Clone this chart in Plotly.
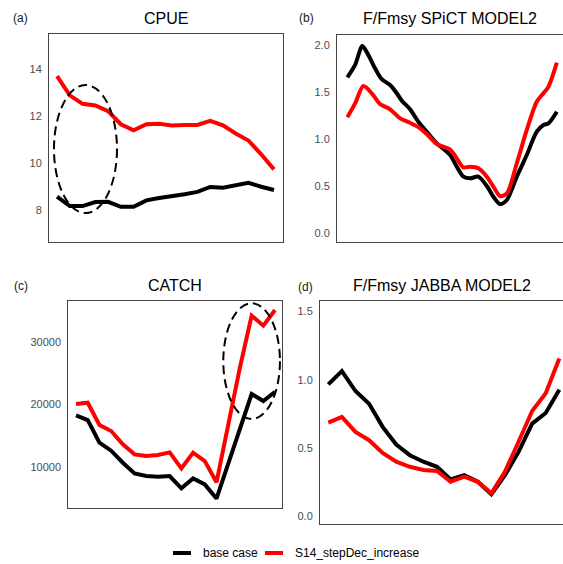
import plotly.graph_objects as go

W, H = 563, 564
FONT = "Liberation Sans, Arial, sans-serif"

years = list(range(2004, 2022))

# (a) CPUE
cpue_base = [8.57, 8.17, 8.17, 8.34, 8.35, 8.14, 8.14, 8.41, 8.51, 8.57,
             8.67, 8.77, 8.98, 8.95, 9.05, 9.16, 8.99, 8.85]
cpue_s14 = [13.70, 12.88, 12.52, 12.45, 12.21, 11.65, 11.39, 11.65, 11.67, 11.60,
            11.62, 11.62, 11.79, 11.60, 11.26, 10.96, 10.37, 9.73]

# (b) F/Fmsy SPiCT MODEL2 (smoothed trajectories, fractional time)
spict_t_base = [0.0, 0.63, 1.22, 1.70, 2.25, 2.79, 3.47, 4.01, 4.42, 5.09, 5.76, 6.44,
                7.26, 8.34, 8.88, 9.42, 9.96, 10.63, 11.32, 11.85, 12.39, 12.94,
                13.75, 14.56, 15.37, 15.91, 16.32, 17.0]
spict_base = [1.658, 1.79, 1.99, 1.895, 1.753, 1.637, 1.576, 1.488, 1.409, 1.318, 1.186, 1.08,
              0.956, 0.832, 0.708, 0.602, 0.584, 0.602, 0.503, 0.389, 0.311, 0.354,
              0.602, 0.832, 1.08, 1.151, 1.169, 1.292]
spict_t_s14 = [0.0, 0.63, 1.30, 1.98, 2.65, 3.47, 4.28, 5.09, 5.90, 6.44, 7.26, 8.34,
               8.88, 9.42, 9.96, 10.63, 11.32, 11.85, 12.39, 12.94, 13.75, 14.56,
               15.37, 15.91, 16.32, 17.0]
spict_s14 = [1.233, 1.38, 1.565, 1.488, 1.374, 1.318, 1.222, 1.175, 1.116, 1.055, 0.949, 0.890,
             0.797, 0.700, 0.708, 0.691, 0.602, 0.495, 0.396, 0.425, 0.744, 1.098,
             1.398, 1.488, 1.558, 1.813]

# (c) CATCH
catch_base = [18213, 17467, 13840, 12560, 10640, 8933, 8507, 8400, 8507, 6533,
              8133, 7173, 4900, 10430, 16290, 21630, 20510, 22000]
catch_s14 = [20027, 20240, 16667, 15707, 13573, 11973, 11707, 11867, 12293, 9733,
             12240, 10907, 7500, 16880, 25840, 34160, 32560, 35070]

# (d) F/Fmsy JABBA MODEL2
jabba_base = [0.966, 1.063, 0.917, 0.824, 0.654, 0.524, 0.446, 0.398, 0.361, 0.268,
              0.300, 0.251, 0.159, 0.300, 0.470, 0.678, 0.756, 0.927]
jabba_s14 = [0.685, 0.727, 0.617, 0.556, 0.463, 0.398, 0.361, 0.337, 0.330, 0.251,
             0.288, 0.251, 0.166, 0.325, 0.545, 0.770, 0.900, 1.156]

series_names = ["base case", "S14_stepDec_increase"]
series_colors = ["#000000", "#ff0000"]

panel_titles = ["CPUE", "F/Fmsy SPiCT MODEL2", "CATCH", "F/Fmsy JABBA MODEL2"]
panel_tags = ["(a)", "(b)", "(c)", "(d)"]


def px_x(x):
    return x / W


def px_y(y):
    return 1 - y / H


fig = go.Figure()

# panel boxes in pixels: left, right, top, bottom
boxes = [(49, 283, 34, 242), (337, 563, 35, 242), (68.3, 281.7, 300.7, 508.3), (320, 563, 300.7, 524)]
xranges = [[2003.37, 2021.71], [2003.16, 2021.5], [2003.34, 2021.57], [2003.39, 2021.27]]
yranges = [[6.64, 15.49], [-0.092, 2.107], [3344, 36560], [-0.059, 1.58]]
ytickvals = [[8, 10, 12, 14], [0, 0.5, 1, 1.5, 2], [10000, 20000, 30000], [0, 0.5, 1, 1.5]]
yticktext = [["8", "10", "12", "14"], ["0.0", "0.5", "1.0", "1.5", "2.0"],
             ["10000", "20000", "30000"], ["0.0", "0.5", "1.0", "1.5"]]

data_sets = [
    ([years, years], [cpue_base, cpue_s14], "linear"),
    ([[2004 + t for t in spict_t_base], [2004 + t for t in spict_t_s14]], [spict_base, spict_s14], "spline"),
    ([years, years], [catch_base, catch_s14], "linear"),
    ([years, years], [jabba_base, jabba_s14], "linear"),
]

layout_axes = {}
for i, (xs, ys, shape) in enumerate(data_sets):
    n = "" if i == 0 else str(i + 1)
    for k in range(2):
        fig.add_trace(go.Scatter(
            x=xs[k], y=ys[k], mode="lines", name=series_names[k],
            line=dict(color=series_colors[k], width=4, shape=shape, smoothing=0.8),
            xaxis="x" + n, yaxis="y" + n, showlegend=False, hoverinfo="skip"))
    l, r, t, b = boxes[i]
    layout_axes["xaxis" + n] = dict(
        domain=[px_x(l), px_x(r)], range=xranges[i], anchor="y" + n,
        showgrid=False, zeroline=False, showticklabels=False, ticks="",
        showline=True, mirror=True, linecolor="#444444", linewidth=1)
    layout_axes["yaxis" + n] = dict(
        domain=[px_y(b), px_y(t)], range=yranges[i], anchor="x" + n,
        showgrid=False, zeroline=False, tickvals=ytickvals[i], ticktext=yticktext[i],
        ticks="outside", ticklen=4, tickcolor="rgba(0,0,0,0)",
        tickfont=dict(family=FONT, size=11, color="#4d4d4d"),
        showline=True, mirror=True, linecolor="#444444", linewidth=1)

annotations = []
title_pos = [(166, 19), (450, 19), (175, 285), (441.5, 285)]
tag_pos = [(11, 18), (297, 18), (11.7, 286), (296, 286.7)]
for i in range(4):
    annotations.append(dict(text=panel_titles[i], x=px_x(title_pos[i][0]), y=px_y(title_pos[i][1]),
                            xref="paper", yref="paper", xanchor="center", yanchor="middle",
                            showarrow=False, font=dict(family=FONT, size=16, color="#000000")))
    annotations.append(dict(text=panel_tags[i], x=px_x(tag_pos[i][0]), y=px_y(tag_pos[i][1]),
                            xref="paper", yref="paper", xanchor="left", yanchor="middle",
                            showarrow=False, font=dict(family=FONT, size=12, color="#1a1a1a")))

shapes = [
    # dashed ellipses highlighting regions of interest
    dict(type="circle", xref="x", yref="y", x0=2003.76, x1=2008.7, y0=7.87, y1=13.32,
         line=dict(color="#000000", width=2, dash="9px,5px")),
    dict(type="circle", xref="x3", yref="y3", x0=2016.58, x1=2021.42, y0=17632, y1=36144,
         line=dict(color="#000000", width=2, dash="9px,5px")),
]

# legend drawn along the bottom
legend_y = px_y(553)
legend_items = [(173, 191, 201), (265, 283, 293)]
for k, (x0, x1, xt) in enumerate(legend_items):
    shapes.append(dict(type="line", xref="paper", yref="paper", x0=px_x(x0), x1=px_x(x1),
                       y0=legend_y, y1=legend_y, line=dict(color=series_colors[k], width=4)))
    annotations.append(dict(text=series_names[k], x=px_x(xt), y=legend_y, xref="paper", yref="paper",
                            xanchor="left", yanchor="middle", showarrow=False,
                            font=dict(family=FONT, size=12, color="#000000")))

fig.update_layout(
    width=W, height=H, autosize=False,
    margin=dict(l=0, r=0, t=0, b=0),
    paper_bgcolor="white", plot_bgcolor="white",
    showlegend=False,
    annotations=annotations, shapes=shapes,
    **layout_axes)

fig.write_html("out.html")
